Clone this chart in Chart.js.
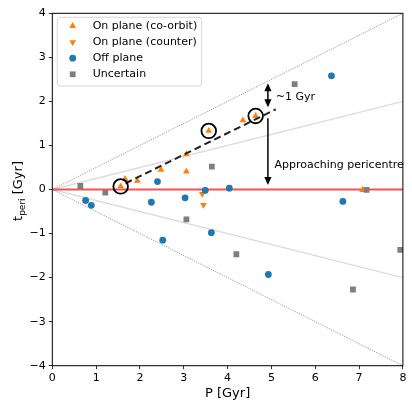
<!DOCTYPE html>
<html>
<head>
<meta charset="utf-8">
<script src="https://cdn.jsdelivr.net/npm/chart.js@4.4.1/dist/chart.umd.min.js"></script>
<style>
  html, body { margin: 0; padding: 0; background: #ffffff; }
  #wrap { width: 412px; height: 402px; }
</style>
</head>
<body>
<div id="wrap"><canvas id="c" width="412" height="402"></canvas></div>
<script>
// ---------------- data ----------------
const coP = [1.56, 1.66, 1.94, 2.48, 3.06, 3.06, 3.57, 4.35, 4.64, 7.08];
const coT = [0.07, 0.24, 0.20, 0.45, 0.80, 0.41, 1.33, 1.57, 1.67, -0.01];

const ctP = [3.42, 3.45];
const ctT = [-0.10, -0.35];

const offP = [0.76, 0.89, 2.26, 2.40, 3.03, 3.49, 4.04, 2.52, 3.63, 6.63, 4.93, 6.37];
const offT = [-0.25, -0.36, -0.29, 0.18, -0.19, -0.02, 0.03, -1.15, -0.98, -0.27, -1.93, 2.58];

const unP = [0.64, 1.21, 3.64, 3.06, 4.20, 6.86, 7.94, 7.17, 5.53];
const unT = [0.08, -0.07, 0.52, -0.68, -1.47, -2.27, -1.37, -0.01, 2.39];

const circP = [1.56, 3.57, 4.64];
const circT = [0.07, 1.33, 1.67];

const fitP = [1.67, 5.10];
const fitT = [0.14, 1.82];

const refP = [0, 8];
const dotUpT = [0, 4];
const dotDnT = [0, -4];
const lightUpT = [0, 2];
const lightDnT = [0, -2];
const zeroT = [0, 0];

const xTicks = [0, 1, 2, 3, 4, 5, 6, 7, 8];
const yTicks = [-4, -3, -2, -1, 0, 1, 2, 3, 4];

const labels = ["On plane (co-orbit)", "On plane (counter)", "Off plane", "Uncertain"];
const xTitle = "P [Gyr]";
const yTitleMain = "t", yTitleSub = "peri", yTitleRest = " [Gyr]";

// annotations (data coordinates)
const gyrArrowP = 4.92, gyrArrowT = [1.87, 2.41];
const gyrText = "~1 Gyr", gyrTextP = 5.10, gyrTextT = 2.10;
const periArrowP = 4.92, periArrowT = [1.62, 0.10];
const periText = "Approaching pericentre", periTextP = 5.07, periTextT = 0.55;

// ---------------- helpers ----------------
const pts = (xs, ys) => xs.map((x, i) => ({ x: x, y: ys[i] }));
const FONT = "'DejaVu Sans', 'Liberation Sans', sans-serif";
const ORANGE = '#ff7f0e', BLUE = '#1f77b4', GREY = '#7f7f7f';

function lineDs(xs, ys, color, width, dash, order) {
  return {
    data: pts(xs, ys), showLine: true, borderColor: color, borderWidth: width,
    borderDash: dash, pointRadius: 0, pointHoverRadius: 0, fill: false, order: order,
    isRef: true
  };
}

const datasets = [
  lineDs(refP, lightUpT, '#dcdcdc', 1.4, [], 20),
  lineDs(refP, lightDnT, '#dcdcdc', 1.4, [], 20),
  lineDs(refP, dotUpT, '#9a9a9a', 1, [1.2, 1.2], 19),
  lineDs(refP, dotDnT, '#9a9a9a', 1, [1.2, 1.2], 19),
  lineDs(refP, zeroT, '#f25454', 1.8, [], 18),
  { label: labels[0], data: pts(coP, coT), pointStyle: 'triangle', pointRadius: 3.9,
    backgroundColor: ORANGE, borderColor: ORANGE, borderWidth: 0, order: 9, isMarker: true },
  { label: labels[1], data: pts(ctP, ctT), pointStyle: 'triangle', pointRotation: 180, pointRadius: 3.9,
    backgroundColor: ORANGE, borderColor: ORANGE, borderWidth: 0, order: 8, isMarker: true },
  { label: labels[2], data: pts(offP, offT), pointStyle: 'circle', pointRadius: 3.4,
    backgroundColor: BLUE, borderColor: BLUE, borderWidth: 0, order: 7, isMarker: true },
  { label: labels[3], data: pts(unP, unT), pointStyle: 'rect', pointRadius: 4.1,
    backgroundColor: GREY, borderColor: GREY, borderWidth: 0, order: 6, isMarker: true },
  lineDs(fitP, fitT, '#222222', 2, [7, 4], 3),
  { data: pts(circP, circT), pointStyle: 'circle', pointRadius: 7.3, backgroundColor: 'rgba(0,0,0,0)',
    borderColor: '#000000', borderWidth: 1.8, showLine: false, order: 2, isRef: true }
];

function arrowHead(ctx, x, y, dir) { // dir: +1 pointing down, -1 pointing up
  ctx.beginPath();
  ctx.moveTo(x, y);
  ctx.lineTo(x - 3.6, y - dir * 8);
  ctx.lineTo(x + 3.6, y - dir * 8);
  ctx.closePath();
  ctx.fill();
}

function drawMarker(ctx, d, x, y) {
  const r = d.pointRadius;
  ctx.save();
  ctx.fillStyle = d.backgroundColor;
  ctx.beginPath();
  if (d.pointStyle === 'circle') {
    ctx.arc(x, y, r, 0, Math.PI * 2);
  } else if (d.pointStyle === 'rect') {
    const s = Math.SQRT1_2 * r;
    ctx.rect(x - s, y - s, 2 * s, 2 * s);
  } else {
    const rot = ((d.pointRotation || 0) * Math.PI) / 180;
    for (let k = 0; k < 3; k++) {
      const ang = rot + k * 2 * Math.PI / 3;
      const px = x + Math.sin(ang) * r, py = y - Math.cos(ang) * r;
      if (k === 0) ctx.moveTo(px, py); else ctx.lineTo(px, py);
    }
    ctx.closePath();
  }
  ctx.fill();
  ctx.restore();
}

const overlay = {
  id: 'overlay',
  afterDraw(chart) {
    const ctx = chart.ctx, a = chart.chartArea;
    const xs = chart.scales.x, ys = chart.scales.y;
    ctx.save();
    // spines
    ctx.strokeStyle = '#000'; ctx.lineWidth = 1;
    ctx.strokeRect(a.left, a.top, a.right - a.left, a.bottom - a.top);

    // ~1 Gyr double arrow
    ctx.strokeStyle = '#000'; ctx.fillStyle = '#000'; ctx.lineWidth = 1.5;
    let ax = xs.getPixelForValue(gyrArrowP);
    let yA = ys.getPixelForValue(gyrArrowT[0]), yB = ys.getPixelForValue(gyrArrowT[1]);
    ctx.beginPath(); ctx.moveTo(ax, yA - 6); ctx.lineTo(ax, yB + 6); ctx.stroke();
    arrowHead(ctx, ax, yA, 1); arrowHead(ctx, ax, yB, -1);
    // pericentre arrow
    ax = xs.getPixelForValue(periArrowP);
    yA = ys.getPixelForValue(periArrowT[0]); yB = ys.getPixelForValue(periArrowT[1]);
    ctx.beginPath(); ctx.moveTo(ax, yA); ctx.lineTo(ax, yB - 6); ctx.stroke();
    arrowHead(ctx, ax, yB, 1);
    // texts
    ctx.font = '11px ' + FONT; ctx.textBaseline = 'middle'; ctx.textAlign = 'left';
    ctx.fillText(gyrText, xs.getPixelForValue(gyrTextP), ys.getPixelForValue(gyrTextT));
    ctx.fillText(periText, xs.getPixelForValue(periTextP), ys.getPixelForValue(periTextT));

    // legend
    const lx = a.left + 5, ly = a.top + 4, lw = 144.4, lh = 68.7;
    ctx.beginPath();
    if (ctx.roundRect) ctx.roundRect(lx, ly, lw, lh, 3); else ctx.rect(lx, ly, lw, lh);
    ctx.fillStyle = 'rgba(255,255,255,0.8)'; ctx.fill();
    ctx.strokeStyle = '#d6d6d6'; ctx.lineWidth = 1; ctx.stroke();
    const markers = chart.data.datasets.filter(d => d.isMarker);
    markers.forEach((d, i) => {
      const y = ly + 8.7 + i * 16.1;
      drawMarker(ctx, d, lx + 15.4, y);
      ctx.fillStyle = '#000'; ctx.font = '11px ' + FONT;
      ctx.textAlign = 'left'; ctx.textBaseline = 'middle';
      ctx.fillText(d.label, lx + 35.4, y);
    });

    // y-axis title with subscript
    ctx.translate(17.5, 191);
    ctx.rotate(-Math.PI / 2);
    ctx.fillStyle = '#000'; ctx.textBaseline = 'alphabetic';
    ctx.font = '13px ' + FONT; const w1 = ctx.measureText(yTitleMain).width;
    ctx.font = '9px ' + FONT; const w2 = ctx.measureText(yTitleSub).width;
    ctx.font = '13px ' + FONT; const w3 = ctx.measureText(yTitleRest).width;
    let x0 = -(w1 + w2 + w3) / 2;
    ctx.textAlign = 'left';
    ctx.font = '13px ' + FONT; ctx.fillText(yTitleMain, x0, 4.5);
    ctx.font = '9px ' + FONT; ctx.fillText(yTitleSub, x0 + w1, 7.5);
    ctx.font = '13px ' + FONT; ctx.fillText(yTitleRest, x0 + w1 + w2, 4.5);
    ctx.restore();
  }
};

const tickFont = { family: FONT, size: 11 };

new Chart(document.getElementById('c'), {
  type: 'scatter',
  data: { datasets: datasets },
  options: {
    responsive: false,
    animation: false,
    devicePixelRatio: 1,
    layout: { padding: { left: 0, right: 4.3, top: 13.3, bottom: 0 } },
    plugins: { legend: { display: false }, tooltip: { enabled: false } },
    elements: { point: { hoverRadius: 0 } },
    scales: {
      x: {
        type: 'linear', min: 0, max: 8,
        afterBuildTicks: s => { s.ticks = xTicks.map(v => ({ value: v })); },
        afterFit: s => { s.height = 36.3; },
        grid: { drawOnChartArea: false, drawTicks: true, tickLength: 3.5, color: '#000', lineWidth: 0.8 },
        border: { display: false },
        ticks: { font: tickFont, color: '#000', padding: 2, maxRotation: 0,
                 callback: v => String(v).replace('-', '\u2212') },
        title: { display: true, text: xTitle, font: { family: FONT, size: 13 }, color: '#000',
                 padding: { top: 0, bottom: 1 } }
      },
      y: {
        type: 'linear', min: -4, max: 4,
        afterBuildTicks: s => { s.ticks = yTicks.map(v => ({ value: v })); },
        afterFit: s => { s.width = 52.3; },
        grid: { drawOnChartArea: false, drawTicks: true, tickLength: 3.5, color: '#000', lineWidth: 0.8 },
        border: { display: false },
        ticks: { font: tickFont, color: '#000', padding: 3,
                 callback: v => String(v).replace('-', '\u2212') }
      }
    }
  },
  plugins: [overlay]
});
</script>
</body>
</html>
